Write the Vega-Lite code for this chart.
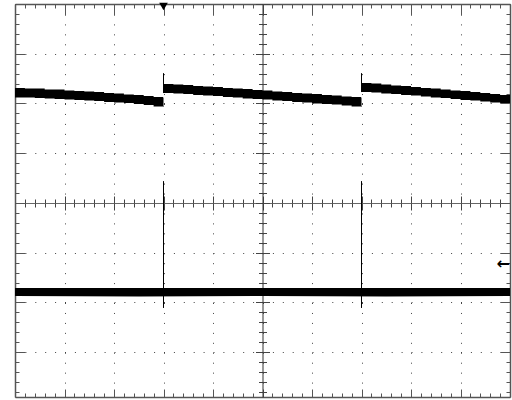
{
  "$schema": "https://vega.github.io/schema/vega-lite/v6.json",
  "width": 495,
  "height": 393,
  "autosize": {"type": "none"},
  "padding": {"left": 15, "top": 4, "right": 2, "bottom": 3},
  "background": "white",
  "config": {"view": {"stroke": null}},
  "datasets": {
    "ch1": [
      {"t": 0, "lo": 2.12, "hi": 2.31},
      {"t": 0.2, "lo": 2.12, "hi": 2.3},
      {"t": 0.4, "lo": 2.11, "hi": 2.3},
      {"t": 0.6, "lo": 2.1, "hi": 2.28},
      {"t": 0.8, "lo": 2.09, "hi": 2.28},
      {"t": 1.0, "lo": 2.08, "hi": 2.26},
      {"t": 1.2, "lo": 2.07, "hi": 2.25},
      {"t": 1.4, "lo": 2.06, "hi": 2.24},
      {"t": 1.6, "lo": 2.05, "hi": 2.23},
      {"t": 1.8, "lo": 2.03, "hi": 2.21},
      {"t": 2.0, "lo": 2.02, "hi": 2.2},
      {"t": 2.2, "lo": 2.01, "hi": 2.18},
      {"t": 2.4, "lo": 1.99, "hi": 2.17},
      {"t": 2.6, "lo": 1.97, "hi": 2.15},
      {"t": 2.8, "lo": 1.94, "hi": 2.13},
      {"t": 2.99, "lo": 1.93, "hi": 2.12},
      {"t": 3.0, "lo": 2.21, "hi": 2.39},
      {"t": 3.2, "lo": 2.2, "hi": 2.38},
      {"t": 3.4, "lo": 2.19, "hi": 2.37},
      {"t": 3.6, "lo": 2.17, "hi": 2.35},
      {"t": 3.8, "lo": 2.16, "hi": 2.34},
      {"t": 4.0, "lo": 2.15, "hi": 2.33},
      {"t": 4.2, "lo": 2.13, "hi": 2.31},
      {"t": 4.4, "lo": 2.12, "hi": 2.3},
      {"t": 4.6, "lo": 2.1, "hi": 2.29},
      {"t": 4.8, "lo": 2.09, "hi": 2.27},
      {"t": 5.0, "lo": 2.08, "hi": 2.26},
      {"t": 5.2, "lo": 2.06, "hi": 2.24},
      {"t": 5.4, "lo": 2.05, "hi": 2.23},
      {"t": 5.6, "lo": 2.03, "hi": 2.21},
      {"t": 5.8, "lo": 2.02, "hi": 2.2},
      {"t": 6.0, "lo": 2.0, "hi": 2.19},
      {"t": 6.2, "lo": 1.99, "hi": 2.17},
      {"t": 6.4, "lo": 1.98, "hi": 2.16},
      {"t": 6.6, "lo": 1.96, "hi": 2.14},
      {"t": 6.8, "lo": 1.94, "hi": 2.13},
      {"t": 6.99, "lo": 1.93, "hi": 2.12},
      {"t": 7.0, "lo": 2.23, "hi": 2.41},
      {"t": 7.2, "lo": 2.22, "hi": 2.4},
      {"t": 7.4, "lo": 2.2, "hi": 2.38},
      {"t": 7.6, "lo": 2.19, "hi": 2.36},
      {"t": 7.8, "lo": 2.17, "hi": 2.35},
      {"t": 8.0, "lo": 2.16, "hi": 2.33},
      {"t": 8.2, "lo": 2.14, "hi": 2.31},
      {"t": 8.4, "lo": 2.12, "hi": 2.3},
      {"t": 8.6, "lo": 2.11, "hi": 2.28},
      {"t": 8.8, "lo": 2.09, "hi": 2.26},
      {"t": 9.0, "lo": 2.07, "hi": 2.25},
      {"t": 9.2, "lo": 2.06, "hi": 2.23},
      {"t": 9.4, "lo": 2.04, "hi": 2.21},
      {"t": 9.6, "lo": 2.02, "hi": 2.19},
      {"t": 9.8, "lo": 2.01, "hi": 2.17},
      {"t": 10, "lo": 1.99, "hi": 2.15}
    ],
    "ch2": [
      {"t": 0, "lo": -1.87, "hi": -1.71},
      {"t": 2.5, "lo": -1.88, "hi": -1.71},
      {"t": 5.0, "lo": -1.87, "hi": -1.71},
      {"t": 7.5, "lo": -1.88, "hi": -1.71},
      {"t": 10, "lo": -1.87, "hi": -1.71}
    ],
    "spikes": [
      {"t": 3.0, "a": 2.21, "b": 2.61},
      {"t": 7.0, "a": 2.23, "b": 2.61},
      {"t": 3.0, "a": -2.11, "b": 0.44},
      {"t": 7.0, "a": -2.11, "b": 0.44}
    ],
    "trigger": [{"t": 3.0, "v": 3.95}],
    "ground": [{"t": 10, "v": -1.23, "label": "←"}]
  },
  "resolve": {"axis": {"x": "independent", "y": "independent"}},
  "layer": [
    {
      "data": {"name": "ch1"},
      "mark": {"type": "area", "color": "black", "interpolate": "step-after"},
      "encoding": {
        "x": {"field": "t", "type": "quantitative",
          "scale": {"domain": [0, 10], "nice": false, "zero": false},
          "axis": {"orient": "bottom", "title": null, "labels": false,
            "values": [0,0.2,0.4,0.6,0.8,1,1.2,1.4,1.6,1.8,2,2.2,2.4,2.6,2.8,3,3.2,3.4,3.6,3.8,4,4.2,4.4,4.6,4.8,5,5.2,5.4,5.6,5.8,6,6.2,6.4,6.6,6.8,7,7.2,7.4,7.6,7.8,8,8.2,8.4,8.6,8.8,9,9.2,9.4,9.6,9.8,10],
            "domain": true, "domainColor": "#555", "domainWidth": 1.5,
            "ticks": true, "tickColor": "#555", "tickWidth": 1,
            "tickSize": {"condition": {"test": "datum.value % 1 === 0", "value": -8}, "value": -4},
            "grid": true, "gridColor": "#444", "gridWidth": 1, "gridDash": [1, 8.95],
            "gridOpacity": {"condition": {"test": "datum.value % 1 === 0", "value": 1}, "value": 0}}},
        "y": {"field": "lo", "type": "quantitative",
          "scale": {"domain": [-3.9, 4], "nice": false, "zero": false},
          "axis": {"orient": "left", "title": null, "labels": false,
            "values": [-3.8,-3.6,-3.4,-3.2,-3,-2.8,-2.6,-2.4,-2.2,-2,-1.8,-1.6,-1.4,-1.2,-1,-0.8,-0.6,-0.4,-0.2,0,0.2,0.4,0.6,0.8,1,1.2,1.4,1.6,1.8,2,2.2,2.4,2.6,2.8,3,3.2,3.4,3.6,3.8,4],
            "domain": true, "domainColor": "#555", "domainWidth": 1.5,
            "ticks": true, "tickColor": "#555", "tickWidth": 1,
            "tickSize": {"condition": {"test": "datum.value % 1 === 0", "value": -10}, "value": -4},
            "grid": true, "gridColor": "#444", "gridWidth": 1, "gridDash": [1, 8.9],
            "gridOpacity": {"condition": {"test": "datum.value % 1 === 0", "value": 1}, "value": 0}}},
        "y2": {"field": "hi"}
      }
    },
    {
      "data": {"name": "ch2"},
      "mark": {"type": "area", "color": "black", "interpolate": "linear"},
      "encoding": {
        "x": {"field": "t", "type": "quantitative",
          "scale": {"domain": [0, 10], "nice": false, "zero": false},
          "axis": {"orient": "top", "title": null, "labels": false,
            "values": [0,0.2,0.4,0.6,0.8,1,1.2,1.4,1.6,1.8,2,2.2,2.4,2.6,2.8,3,3.2,3.4,3.6,3.8,4,4.2,4.4,4.6,4.8,5,5.2,5.4,5.6,5.8,6,6.2,6.4,6.6,6.8,7,7.2,7.4,7.6,7.8,8,8.2,8.4,8.6,8.8,9,9.2,9.4,9.6,9.8,10],
            "domain": true, "domainColor": "#555", "domainWidth": 1.5,
            "ticks": true, "tickColor": "#555", "tickWidth": 1,
            "tickSize": {"condition": {"test": "datum.value % 1 === 0", "value": -11}, "value": -4},
            "grid": false}},
        "y": {"field": "lo", "type": "quantitative",
          "scale": {"domain": [-3.9, 4], "nice": false, "zero": false},
          "axis": {"orient": "right", "title": null, "labels": false,
            "values": [-3.8,-3.6,-3.4,-3.2,-3,-2.8,-2.6,-2.4,-2.2,-2,-1.8,-1.6,-1.4,-1.2,-1,-0.8,-0.6,-0.4,-0.2,0,0.2,0.4,0.6,0.8,1,1.2,1.4,1.6,1.8,2,2.2,2.4,2.6,2.8,3,3.2,3.4,3.6,3.8,4],
            "domain": true, "domainColor": "#555", "domainWidth": 1.5,
            "ticks": true, "tickColor": "#555", "tickWidth": 1,
            "tickSize": {"condition": {"test": "datum.value % 1 === 0", "value": -10}, "value": -4},
            "grid": false}},
        "y2": {"field": "hi"}
      }
    },
    {
      "data": {"name": "spikes"},
      "mark": {"type": "rule", "color": "black", "strokeWidth": 1},
      "encoding": {
        "x": {"field": "t", "type": "quantitative",
          "scale": {"domain": [0, 10], "nice": false, "zero": false},
          "axis": {"orient": "bottom", "offset": -194, "title": null, "labels": false,
            "values": [0,0.2,0.4,0.6,0.8,1,1.2,1.4,1.6,1.8,2,2.2,2.4,2.6,2.8,3,3.2,3.4,3.6,3.8,4,4.2,4.4,4.6,4.8,5,5.2,5.4,5.6,5.8,6,6.2,6.4,6.6,6.8,7,7.2,7.4,7.6,7.8,8,8.2,8.4,8.6,8.8,9,9.2,9.4,9.6,9.8,10],
            "domain": true, "domainColor": "#666", "domainWidth": 1,
            "ticks": true, "tickColor": "#444", "tickWidth": 1,
            "tickSize": {"condition": {"test": "datum.value % 1 === 0", "value": 7}, "value": 4},
            "grid": false}},
        "y": {"field": "a", "type": "quantitative",
          "scale": {"domain": [-3.9, 4], "nice": false, "zero": false},
          "axis": {"orient": "left", "offset": -247.5, "title": null, "labels": false,
            "values": [-3.8,-3.6,-3.4,-3.2,-3,-2.8,-2.6,-2.4,-2.2,-2,-1.8,-1.6,-1.4,-1.2,-1,-0.8,-0.6,-0.4,-0.2,0,0.2,0.4,0.6,0.8,1,1.2,1.4,1.6,1.8,2,2.2,2.4,2.6,2.8,3,3.2,3.4,3.6,3.8,4],
            "domain": true, "domainColor": "#333", "domainWidth": 1,
            "ticks": true, "tickColor": "#444", "tickWidth": 1,
            "tickSize": {"condition": {"test": "datum.value % 1 === 0", "value": 7}, "value": 4},
            "grid": false}},
        "y2": {"field": "b"}
      }
    },
    {
      "data": {"name": "trigger"},
      "mark": {"type": "point", "shape": "triangle-down", "filled": true, "color": "black", "size": 75, "opacity": 1},
      "encoding": {
        "x": {"field": "t", "type": "quantitative",
          "scale": {"domain": [0, 10], "nice": false, "zero": false},
          "axis": {"orient": "top", "offset": -199, "title": null, "labels": false,
            "values": [0,0.2,0.4,0.6,0.8,1,1.2,1.4,1.6,1.8,2,2.2,2.4,2.6,2.8,3,3.2,3.4,3.6,3.8,4,4.2,4.4,4.6,4.8,5,5.2,5.4,5.6,5.8,6,6.2,6.4,6.6,6.8,7,7.2,7.4,7.6,7.8,8,8.2,8.4,8.6,8.8,9,9.2,9.4,9.6,9.8,10],
            "domain": false,
            "ticks": true, "tickColor": "#444", "tickWidth": 1,
            "tickSize": {"condition": {"test": "datum.value % 1 === 0", "value": 7}, "value": 4},
            "grid": false}},
        "y": {"field": "v", "type": "quantitative",
          "scale": {"domain": [-3.9, 4], "nice": false, "zero": false},
          "axis": {"orient": "right", "offset": -247.5, "title": null, "labels": false,
            "values": [-3.8,-3.6,-3.4,-3.2,-3,-2.8,-2.6,-2.4,-2.2,-2,-1.8,-1.6,-1.4,-1.2,-1,-0.8,-0.6,-0.4,-0.2,0,0.2,0.4,0.6,0.8,1,1.2,1.4,1.6,1.8,2,2.2,2.4,2.6,2.8,3,3.2,3.4,3.6,3.8,4],
            "domain": false,
            "ticks": true, "tickColor": "#444", "tickWidth": 1,
            "tickSize": {"condition": {"test": "datum.value % 1 === 0", "value": 7}, "value": 4},
            "grid": false}}
      }
    },
    {
      "data": {"name": "ground"},
      "mark": {"type": "text", "align": "right", "baseline": "middle", "font": "DejaVu Sans", "fontSize": 16, "fontWeight": "bold", "color": "black", "dx": 0},
      "encoding": {
        "x": {"field": "t", "type": "quantitative", "scale": {"domain": [0, 10], "nice": false, "zero": false}, "axis": null},
        "y": {"field": "v", "type": "quantitative", "scale": {"domain": [-3.9, 4], "nice": false, "zero": false}, "axis": null},
        "text": {"field": "label"}
      }
    }
  ]
}
